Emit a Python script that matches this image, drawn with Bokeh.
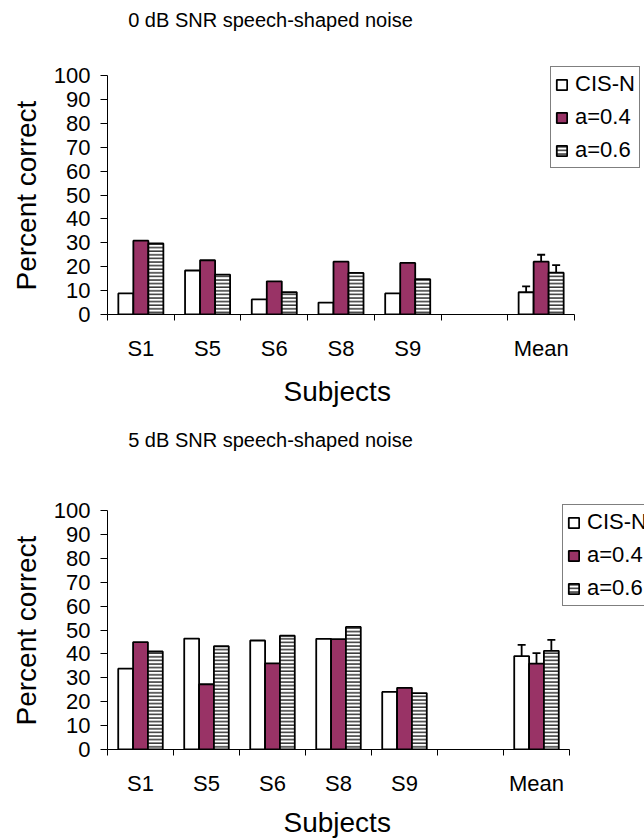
from bokeh.plotting import figure
from bokeh.models import (Range1d, FixedTicker, Legend, LegendItem, Whisker, TeeHead,
                          ColumnDataSource, Label, Title)
from bokeh.layouts import column
from bokeh.embed import file_html
from bokeh.resources import INLINE

# ---------------- data ----------------
categories = ["S1", "S5", "S6", "S8", "S9", "", "Mean"]
subjects = ["S1", "S5", "S6", "S8", "S9"]
conditions = ["CIS-N", "a=0.4", "a=0.6"]
y_ticks = list(range(0, 101, 10))

# 0 dB SNR
snr0_cisn = [8.8, 18.4, 6.3, 5.0, 8.8]
snr0_a04 = [30.9, 22.7, 13.9, 22.1, 21.6]
snr0_a06 = [29.7, 16.7, 9.3, 17.4, 14.8]
snr0_mean = [9.3, 22.1, 17.5]
snr0_err = [2.5, 2.9, 3.2]

# 5 dB SNR
snr5_cisn = [33.8, 46.4, 45.6, 46.3, 24.1]
snr5_a04 = [44.9, 27.3, 36.0, 46.2, 25.8]
snr5_a06 = [41.0, 43.2, 47.6, 51.3, 23.6]
snr5_mean = [39.1, 35.9, 41.3]
snr5_err = [4.7, 4.4, 4.6]

FONT = "Liberation Sans"
MAROON = "#993366"
BAR_W = 0.225
offsets = [-BAR_W, 0.0, BAR_W]

LEFT = 107
FRAME_W = 644 - LEFT


def make_panel(title, series, means, errs, plot_top, axis_len, fig_h, legend_xy,
               xlabel_standoff):
    # frame spans from the figure top to the x axis and from the y axis to the right edge;
    # the axes themselves are limited to the data bounds
    frame_h = plot_top + 239
    n = len(categories)
    x_end = n * FRAME_W / axis_len
    y_end = 100 * frame_h / 239
    p = figure(frame_width=FRAME_W, frame_height=frame_h,
               min_border_left=LEFT, min_border_right=0,
               min_border_top=0, min_border_bottom=fig_h - frame_h,
               x_range=Range1d(0, x_end), y_range=Range1d(0, y_end),
               output_backend="svg", toolbar_location=None)
    p.outline_line_color = None
    p.xgrid.visible = False
    p.ygrid.visible = False
    p.background_fill_color = "white"
    p.border_fill_color = "white"

    p.add_layout(Label(x=270 - LEFT, y=frame_h - 19, x_units="screen",
                       y_units="screen", text=title, text_align="center",
                       text_baseline="alphabetic", text_font=FONT,
                       text_font_size="20px", text_color="black"))

    subj_pos = [categories.index(s) + 0.5 for s in subjects]
    mean_pos = categories.index("Mean") + 0.5
    renderers = []
    for k, (vals, off) in enumerate(zip(series, offsets)):
        xs = [x + off for x in subj_pos] + [mean_pos + off]
        tops = list(vals) + [means[k]]
        src = ColumnDataSource(dict(x=xs, top=tops))
        kw = dict(x="x", top="top", bottom=0, width=BAR_W, source=src,
                  line_color="black", line_width=1.8)
        if k == 0:
            r = p.vbar(fill_color="white", **kw)
        elif k == 1:
            r = p.vbar(fill_color=MAROON, **kw)
        else:
            r = p.vbar(fill_color="white", hatch_pattern="horizontal_line",
                       hatch_color="black", hatch_scale=3.6, hatch_weight=1.2, **kw)
        renderers.append(r)
        esrc = ColumnDataSource(dict(x=[mean_pos + off], base=[means[k]],
                                     upper=[means[k] + errs[k]]))
        w = Whisker(source=esrc, base="x", lower="base", upper="upper",
                    dimension="height", lower_head=None,
                    upper_head=TeeHead(size=8, line_width=1.8, line_color="black"),
                    line_width=1.8, line_color="black", level="overlay")
        p.add_layout(w)

    # axes
    xa = p.xaxis[0]
    xa.bounds = (0, n)
    xa.ticker = FixedTicker(ticks=[i + 0.5 for i in range(n)],
                            minor_ticks=list(range(n + 1)))
    xa.major_label_overrides = {i + 0.5: c for i, c in enumerate(categories)}
    xa.major_tick_out = 0
    xa.major_tick_in = 0
    xa.minor_tick_out = 6
    xa.minor_tick_in = 0
    xa.major_label_standoff = 15

    ya = p.yaxis[0]
    ya.bounds = (0, 100)
    ya.ticker = FixedTicker(ticks=y_ticks)
    ya.major_tick_out = 7
    ya.major_tick_in = 0
    ya.minor_tick_out = 0
    ya.minor_tick_in = 0
    ya.major_label_standoff = 10

    for ax in (xa, ya):
        ax.axis_line_color = "black"
        ax.axis_line_width = 1
        ax.major_tick_line_color = "black"
        ax.minor_tick_line_color = "black"
        ax.major_label_text_font = FONT
        ax.major_label_text_font_size = "22px"
        ax.major_label_text_color = "black"

    # axis titles placed along the data extent of each axis (not the whole frame)
    p.add_layout(Title(text="Subjects", align="left", offset=176, vertical_align="top",
                       standoff=xlabel_standoff, text_font=FONT, text_font_size="28px",
                       text_font_style="normal", text_color="black"), "below")
    p.add_layout(Title(text="Percent correct", align="left", offset=24,
                       vertical_align="top", standoff=14, text_font=FONT,
                       text_font_size="28px", text_font_style="normal",
                       text_color="black"), "left")

    legend = Legend(items=[LegendItem(label=c, renderers=[r])
                           for c, r in zip(conditions, renderers)],
                    location=legend_xy, orientation="vertical",
                    label_text_font=FONT, label_text_font_size="22px",
                    label_text_color="black", glyph_width=13, glyph_height=13,
                    label_standoff=7, label_height=24, spacing=7, padding=4,
                    margin=0, border_line_color="black", border_line_width=1,
                    background_fill_color="white", background_fill_alpha=1)
    p.add_layout(legend)
    return p


p1 = make_panel("0 dB SNR speech-shaped noise", [snr0_cisn, snr0_a04, snr0_a06],
                snr0_mean, snr0_err, plot_top=75, axis_len=467, fig_h=420,
                legend_xy=(443, 146), xlabel_standoff=24)
p2 = make_panel("5 dB SNR speech-shaped noise", [snr5_cisn, snr5_a04, snr5_a06],
                snr5_mean, snr5_err, plot_top=90, axis_len=462, fig_h=419,
                legend_xy=(455, 143), xlabel_standoff=16)

layout = column(p1, p2, spacing=0)
open("out.html", "w").write(file_html(layout, INLINE))
